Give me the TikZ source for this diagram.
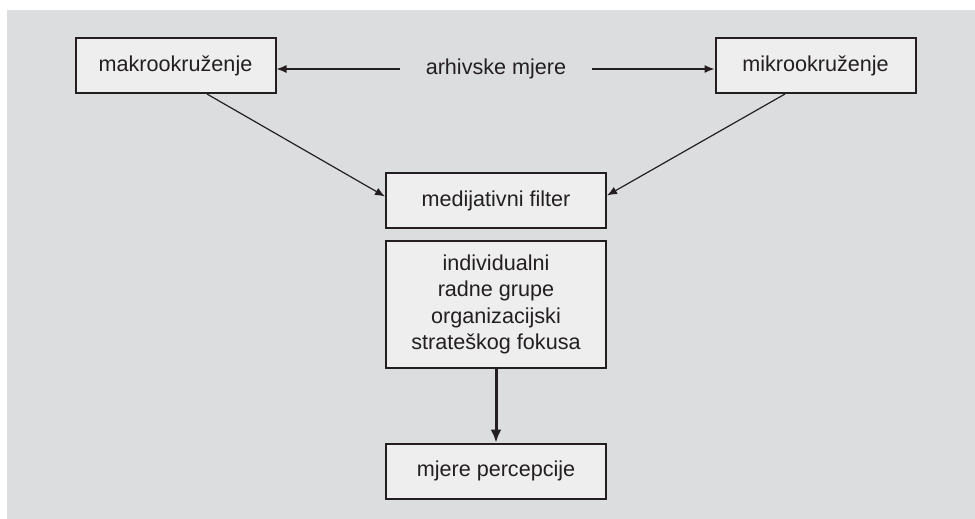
\documentclass[tikz,border=0pt]{standalone}
\usepackage{fontspec}
\setmainfont{Liberation Sans}
\usetikzlibrary{arrows.meta, positioning, calc}
\definecolor{panelGray}{RGB}{220, 221, 223}
\definecolor{boxFill}{RGB}{238, 238, 238}
\definecolor{edgeDark}{RGB}{35, 31, 32}
\tikzset{
    box/.style={draw=edgeDark, fill=boxFill, line width=1pt, minimum width=100pt,
        minimum height=27.5pt, inner sep=0pt, align=center,
        font=\fontsize{10.8}{13.3}\selectfont, text=edgeDark},
    wide box/.style={box, minimum width=110pt},
    link/.style={draw=edgeDark, line width=0.6pt, -{Latex[length=5pt, width=4pt]}},
    main link/.style={draw=edgeDark, line width=1.5pt, -{Latex[length=6.5pt, width=5.5pt]}}
}

\begin{document}
\begin{tikzpicture}[x=0.5pt, y=-0.5pt]
    % Draw the gray panel behind the diagram
    \path[use as bounding box] (0,0) rectangle (975,519);
    \fill[panelGray] (7,10) rectangle (975,519);

    % Draw the boxes
    \node[box] (makro) at (175.5,65.5) {makrookruženje};
    \node[box] (mikro) at (815.5,65.5) {mikrookruženje};
    \node[wide box] (filter) at (496,200.5) {medijativni filter};
    \node[wide box, minimum height=63.5pt] (levels) at (496,304.5)
        {individualni\\radne grupe\\organizacijski\\strateškog fokusa};
    \node[wide box] (percep) at (496,471) {mjere percepcije};

    % Label between the two environments
    \node[font=\fontsize{10.8}{13.3}\selectfont, text=edgeDark, inner xsep=12.5pt]
        (arhiv) at (496,69) {arhivske mjere};

    % Draw the arrows
    \draw[link] (arhiv.west) -- (arhiv.west -| makro.east);
    \draw[link] (arhiv.east) -- (arhiv.east -| mikro.west);
    \coordinate (makroOut) at ($(makro.south)+(31.5,0)$);
    \coordinate (mikroOut) at ($(mikro.south)+(-30.5,0)$);
    \coordinate (filterIn) at ($(filter.west)+(0,-4)$);
    \coordinate (filterOut) at ($(filter.east)+(0,-5)$);
    \draw[link] (makroOut) -- (filterIn);
    \draw[link] (mikroOut) -- (filterOut);
    \draw[main link] (levels.south) -- (percep.north);
\end{tikzpicture}
\end{document}
